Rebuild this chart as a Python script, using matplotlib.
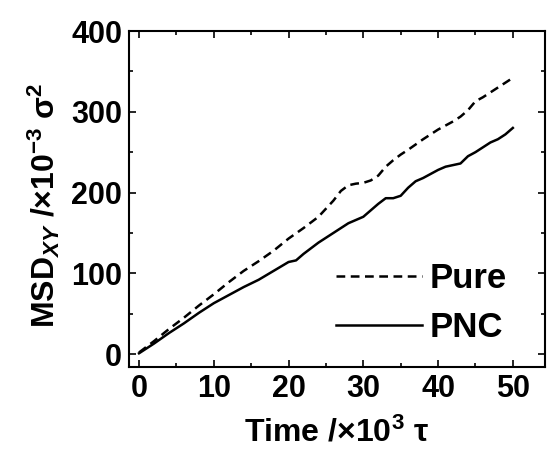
import matplotlib
matplotlib.use('Agg')
import matplotlib.pyplot as plt
from matplotlib.ticker import MultipleLocator

plt.rcParams['font.family'] = ['Liberation Sans', 'DejaVu Sans']
plt.rcParams['font.weight'] = 'bold'
plt.rcParams['mathtext.fontset'] = 'custom'
plt.rcParams['mathtext.rm'] = 'Liberation Sans:bold'
plt.rcParams['mathtext.it'] = 'Liberation Sans:bold:italic'
plt.rcParams['mathtext.bf'] = 'Liberation Sans:bold'

# data (time in 10^3 tau, MSD in 10^-3 sigma^2)
t_pure = [0, 2, 4, 6, 8, 10, 12, 14, 16, 18, 20, 22, 24, 26, 27, 28, 29, 30, 31, 32,
          33, 34, 35, 36, 38, 40, 42, 43, 44, 45, 46, 47, 48, 49, 50]
msd_pure = [2, 16, 31, 45, 60, 74, 89, 103, 115, 128, 143, 156, 170, 190, 202, 209, 211, 212, 215, 221,
            232, 240, 247, 253, 266, 278, 288, 294, 302, 313, 318, 324, 330, 336, 342]

t_pnc = [0, 2, 4, 6, 8, 10, 12, 14, 16, 18, 20, 21, 22, 24, 26, 28, 30, 31, 32, 33,
         34, 35, 36, 37, 38, 40, 41, 42, 43, 44, 45, 46, 47, 48, 49, 50]
msd_pnc = [1, 13, 26, 38, 51, 63, 73, 83, 92, 103, 114, 116, 124, 138, 150, 162, 170, 178, 186, 193,
           193, 196, 206, 214, 218, 228, 232, 234, 236, 245, 250, 256, 262, 266, 272, 280]

fig = plt.figure(figsize=(5.52, 4.54), dpi=100)
ax = fig.add_axes([0.2337, 0.1916, 0.7536, 0.7401])

ax.plot(t_pure, msd_pure, color='black', lw=1.8, linestyle=(0, (3.5, 2.2)), label='Pure')
ax.plot(t_pnc, msd_pnc, color='black', lw=1.8, linestyle='-', label='PNC')

ax.set_xlim(-1.34, 54.3)
ax.set_ylim(-16, 400)
ax.xaxis.set_major_locator(MultipleLocator(10))
ax.xaxis.set_minor_locator(MultipleLocator(5))
ax.yaxis.set_major_locator(MultipleLocator(100))
ax.yaxis.set_minor_locator(MultipleLocator(50))
ax.tick_params(which='both', direction='in', top=True, right=True, width=1.2)
ax.tick_params(which='major', length=5, labelsize=22, pad=5)
ax.tick_params(which='minor', length=3)
for lbl in ax.get_xticklabels() + ax.get_yticklabels():
    lbl.set_fontweight('bold')
for s in ax.spines.values():
    s.set_linewidth(1.5)

ax.set_xlabel(r'Time /×10$^{3}$ τ', fontsize=23, fontweight='bold')
ax.set_ylabel(r'MSD$_{XY}$ /×10$^{-3}$ σ$^{2}$', fontsize=23, fontweight='bold')
ax.xaxis.set_label_coords(0.5, -0.15)
ax.yaxis.set_label_coords(-0.16, 0.48)

leg = ax.legend(loc='upper left', frameon=False, fontsize=25, handlelength=2.5,
                handletextpad=0.2, labelspacing=0.45, borderpad=0,
                bbox_to_anchor=(0.455, 0.364))
for txt in leg.get_texts():
    txt.set_fontweight('bold')

fig.savefig('out.png', dpi=100, facecolor='white')
